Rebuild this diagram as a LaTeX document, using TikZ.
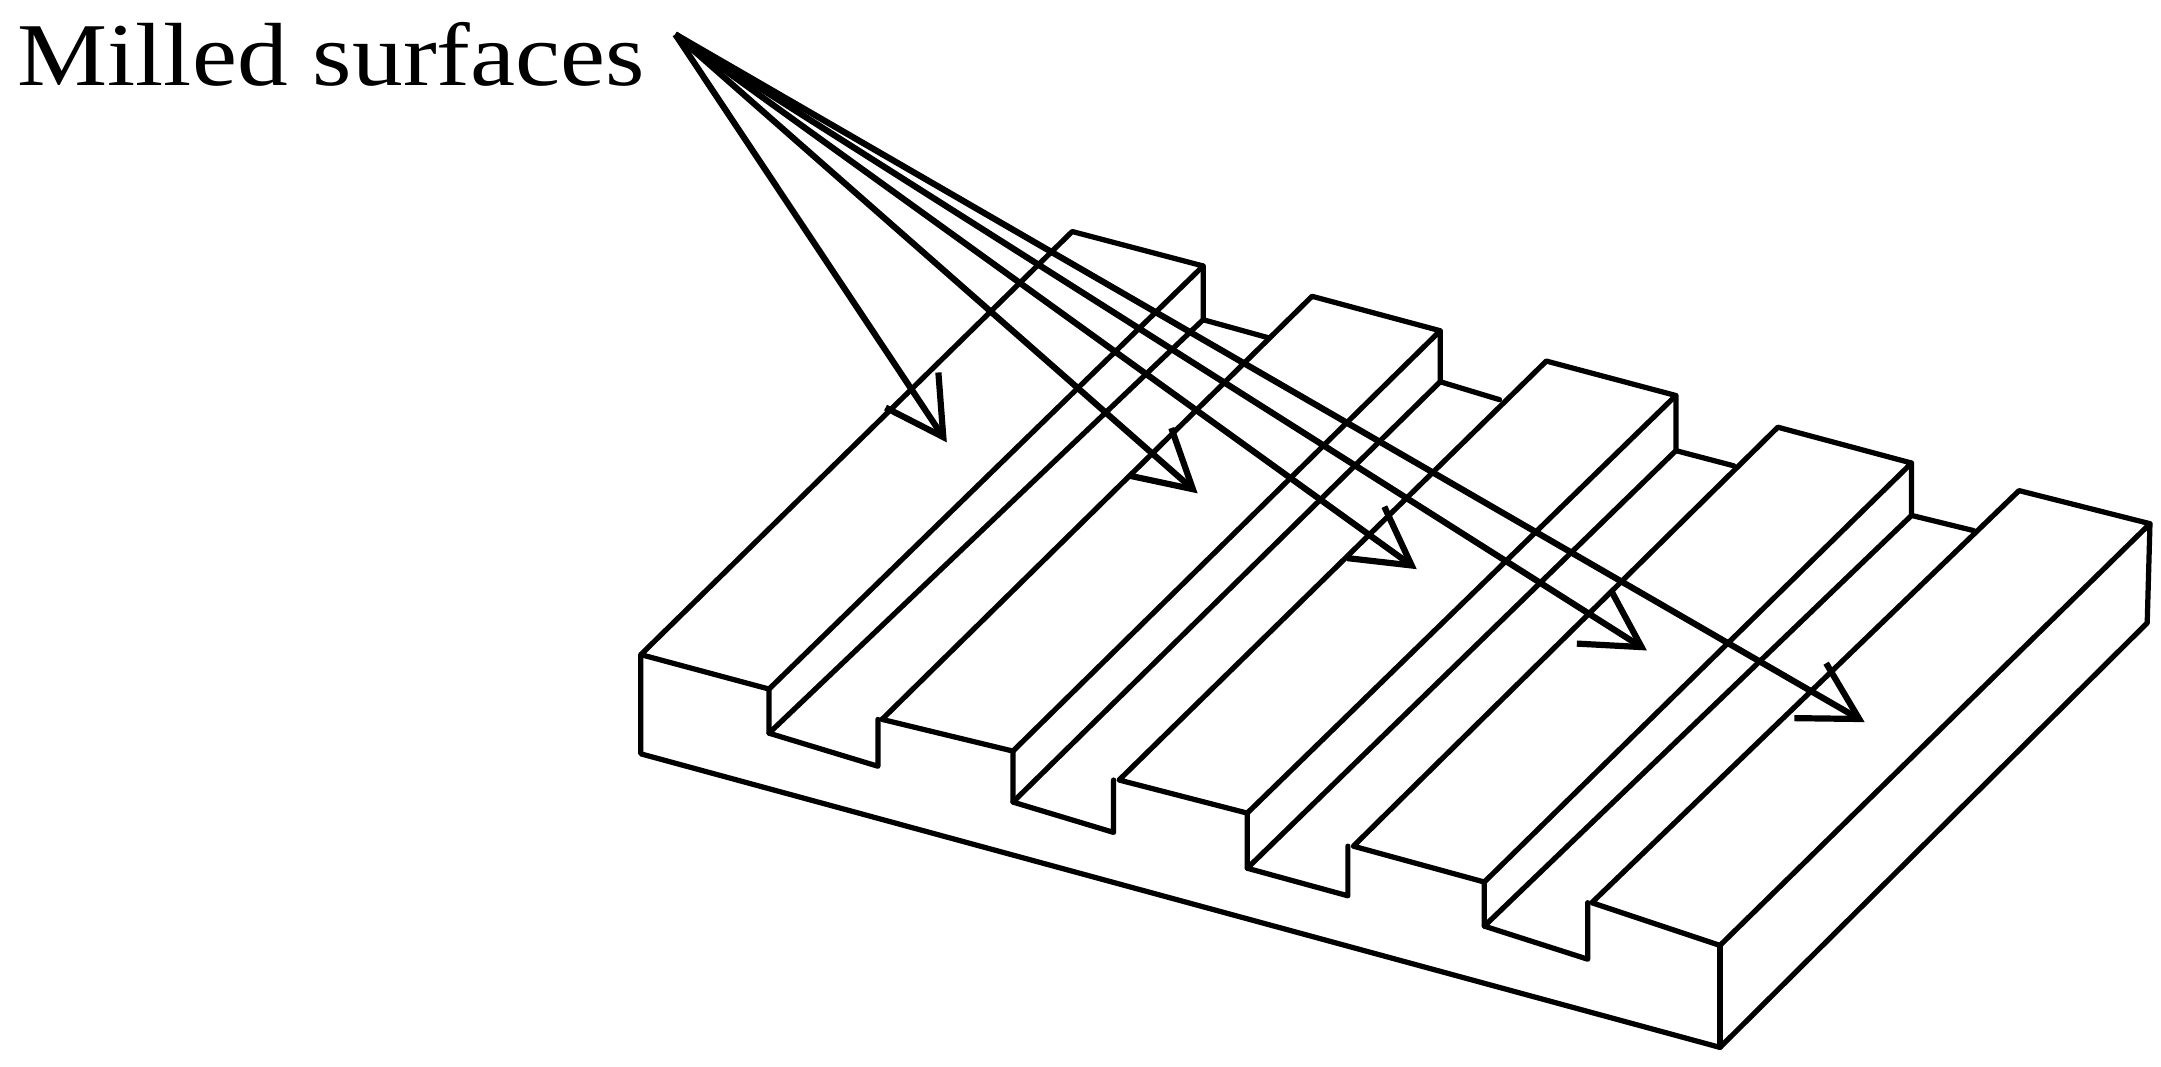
\documentclass[tikz,border=0pt]{standalone}
\usepackage{fontspec}
\setmainfont[FakeStretch=1.13]{Liberation Serif}
\usetikzlibrary{arrows.meta}
\tikzset{
  outline/.style={line width=0.38mm, line join=round, line cap=round},
  pointer/.style={line width=0.45mm, -{Straight Barb[length=4.1mm,width=4.6mm]}},
}
\begin{document}
\begin{tikzpicture}[x=0.01cm, y=-0.01cm]
  \useasboundingbox (0,0) rectangle (1568,774);
  % outer block
  \draw[outline] (465,475) -- (465,547) -- (1248,760) -- (1558,452) -- (1560,380);
  \draw[outline] (1248,686) -- (1248,760);
  % ridge tops
  \draw[outline] (465,475) -- (778,168) -- (873,193) -- (558,500) -- cycle;
  \draw[outline] (640,522) -- (952,215) -- (1045,240) -- (735,545) -- cycle;
  \draw[outline] (812,566) -- (1122,262) -- (1216,287) -- (905,590) -- cycle;
  \draw[outline] (982,614) -- (1290,310) -- (1387,336) -- (1077,640) -- cycle;
  \draw[outline] (1155,655) -- (1465,356) -- (1560,380) -- (1248,686) -- cycle;
  % grooves
  \draw[outline] (558,500) -- (558,532) -- (637,556) -- (637,522);
  \draw[outline] (735,545) -- (735,582) -- (808,604) -- (808,566);
  \draw[outline] (905,590) -- (905,630) -- (978,650) -- (978,614);
  \draw[outline] (1077,640) -- (1077,672) -- (1152,696) -- (1152,655);
  \draw[outline] (558,532) -- (873,232) -- (873,193);
  \draw[outline] (735,582) -- (1045,277) -- (1045,240);
  \draw[outline] (905,630) -- (1216,327) -- (1216,287);
  \draw[outline] (1077,672) -- (1387,374) -- (1387,336);
  \draw[outline] (873,232) -- (920,245);
  \draw[outline] (1045,277) -- (1088,290);
  \draw[outline] (1216,327) -- (1258,338);
  \draw[outline] (1387,374) -- (1432,385);
  % label and pointers
  \node[font=\fontsize{18.5}{22}\selectfont, anchor=base west, inner sep=0pt] (label) at (12,62) {Milled surfaces};
  \coordinate (apex) at (490,25);
  \coordinate (surfaceA) at (687,321);
  \coordinate (surfaceB) at (869,358);
  \coordinate (surfaceC) at (1028,413);
  \coordinate (surfaceD) at (1195,472);
  \coordinate (surfaceE) at (1353,524);
  \draw[pointer] (apex) -- (surfaceA);
  \draw[pointer] (apex) -- (surfaceB);
  \draw[pointer] (apex) -- (surfaceC);
  \draw[pointer] (apex) -- (surfaceD);
  \draw[pointer] (apex) -- (surfaceE);
\end{tikzpicture}
\end{document}
